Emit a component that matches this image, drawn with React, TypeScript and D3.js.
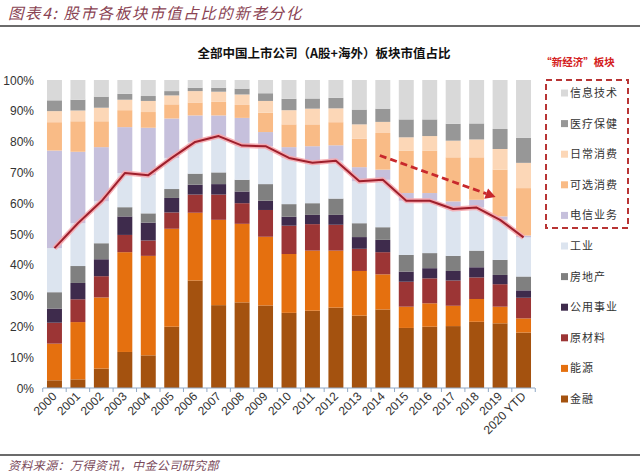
import React from "react";
import * as d3 from "d3";

const categories = ["2000","2001","2002","2003","2004","2005","2006","2007","2008","2009","2010","2011","2012","2013","2014","2015","2016","2017","2018","2019","2020 YTD"];

// stacked from bottom to top
const finance = [2.5, 2.8, 6.3, 11.7, 10.6, 19.9, 34.9, 26.9, 27.8, 26.8, 24.4, 25.1, 26.1, 23.5, 25.5, 19.5, 19.9, 20.1, 21.5, 21.0, 18.0];
const energy = [11.9, 18.6, 23.1, 32.4, 32.3, 31.8, 22.0, 27.7, 25.5, 22.3, 19.1, 19.5, 18.5, 14.5, 11.4, 6.9, 7.6, 6.6, 7.4, 5.4, 4.6];
const materials = [6.8, 7.4, 6.9, 5.6, 5.0, 5.3, 5.9, 8.2, 6.7, 8.7, 9.2, 8.6, 8.4, 7.2, 7.2, 8.1, 8.1, 8.2, 7.0, 7.3, 6.7];
const utilities = [4.6, 5.3, 5.5, 6.0, 5.8, 4.7, 3.2, 3.4, 3.8, 3.0, 2.9, 3.0, 3.2, 3.8, 4.0, 3.3, 3.3, 3.1, 3.3, 3.0, 2.4];
const realEstate = [5.3, 5.5, 5.2, 3.0, 3.0, 2.9, 3.6, 3.8, 3.8, 5.4, 4.1, 3.8, 5.3, 4.5, 4.1, 5.4, 4.9, 4.9, 5.4, 4.9, 4.5];
const industrials = [14.3, 13.9, 13.6, 11.1, 12.4, 10.1, 10.3, 11.8, 11.1, 12.3, 15.0, 13.1, 12.3, 13.6, 15.4, 17.6, 17.0, 15.2, 14.0, 13.0, 12.7];
const telecom = [31.7, 23.2, 17.6, 14.9, 15.4, 12.8, 8.6, 6.7, 9.0, 4.6, 3.5, 5.4, 5.0, 4.6, 3.3, 2.5, 2.5, 2.5, 2.5, 1.1, 0.6];
const discretionary = [9.2, 9.9, 8.4, 5.5, 5.1, 4.6, 4.2, 4.4, 4.2, 6.3, 7.4, 7.1, 7.5, 9.2, 11.9, 13.8, 13.8, 14.3, 13.8, 15.2, 15.4];
const staples = [3.6, 3.5, 4.4, 3.4, 3.6, 2.9, 3.7, 3.3, 3.4, 3.8, 4.6, 5.1, 4.5, 4.7, 3.6, 4.3, 4.7, 5.4, 5.8, 6.7, 8.2];
const healthcare = [3.5, 3.5, 3.6, 1.9, 1.6, 1.4, 1.1, 1.3, 1.9, 2.5, 3.7, 3.3, 3.4, 4.8, 4.3, 5.8, 5.4, 5.5, 5.2, 6.5, 8.1];
const infoTech = [6.6, 6.4, 5.4, 4.5, 5.2, 3.6, 2.5, 2.5, 2.8, 4.3, 6.1, 6.0, 5.8, 9.6, 9.3, 12.8, 12.8, 14.2, 14.1, 15.9, 18.8];

// red line: old-economy share
const oldEconomyShare = [45.4, 53.5, 60.6, 69.8, 69.1, 74.7, 79.9, 81.8, 78.7, 78.5, 74.7, 73.1, 73.8, 67.1, 67.6, 60.8, 60.8, 58.1, 58.6, 54.6, 48.9];

const yTicks = [0, 10, 20, 30, 40, 50, 60, 70, 80, 90, 100];

const seriesNames = ["金融","能源","原材料","公用事业","房地产","工业","电信业务","可选消费","日常消费","医疗保健","信息技术"];
const seriesValues = [finance, energy, materials, utilities, realEstate, industrials, telecom, discretionary, staples, healthcare, infoTech];
const seriesColors = ["#A4520F","#E5700F","#9C3535","#3E2B4C","#808080","#DCE4EF","#C6C0DC","#F9BB86","#FCD7B7","#979797","#D9D9D9"];

export default function App() {
  const W = 640, H = 475;
  const x = d3.scaleBand<string>().domain(categories).range([43, 535]).paddingInner(0.362).paddingOuter(0.17);
  const y = d3.scaleLinear().domain([0, 100]).range([388, 80]);

  const rows = categories.map((c, i) => {
    const r: any = { cat: c };
    seriesNames.forEach((n, k) => (r[n] = seriesValues[k][i]));
    return r;
  });
  const stacked = d3.stack<any>().keys(seriesNames)(rows);

  const line = d3.line<number>()
    .x((_, i) => (x(categories[i]) as number) + x.bandwidth() / 2)
    .y((v) => y(v));
  const linePath = line(oldEconomyShare) || "";

  const step = x.step();
  const tickXs = categories.map((c) => (x(c) as number) - (step - x.bandwidth()) / 2);
  tickXs.push((x(categories[categories.length - 1]) as number) + x.bandwidth() + (step - x.bandwidth()) / 2);

  const cjk = "'Noto Sans CJK SC', sans-serif";
  const latin = "'Liberation Sans', Arial, sans-serif";

  // dashed arrow endpoints from categories
  const ax1 = (x("2014") as number) + x.bandwidth() * 0.3;
  const ay1 = y(75.5);
  const ax2 = (x("2019") as number) + x.bandwidth() * 0.2;
  const ay2 = y(62);
  const ang = Math.atan2(ay2 - ay1, ax2 - ax1);
  const ah = 10, aw = 5.5;
  const tipX = ax2, tipY = ay2;
  const bx = tipX - ah * Math.cos(ang), by = tipY - ah * Math.sin(ang);
  const arrowHead = `M${tipX},${tipY} L${bx + aw * Math.sin(ang)},${by - aw * Math.cos(ang)} L${bx - aw * Math.sin(ang)},${by + aw * Math.cos(ang)} Z`;

  const legendOrder = [10, 9, 8, 7, 6, 5, 4, 3, 2, 1, 0];

  return (
    <svg width={W} height={H} style={{ position: "absolute", left: 0, top: 0, background: "#fff" }}>
      <rect x={0} y={0} width={W} height={H} fill="#fff" />
      <text x={8} y={19} fontFamily={cjk} fontSize={15.5} fontStyle="italic" letterSpacing={1.6} fill="#8A4353">图表4: 股市各板块市值占比的新老分化</text>
      <line x1={0} x2={W} y1={26} y2={26} stroke="#3a3a3a" strokeWidth={1.5} />

      <text x={324} y={58} textAnchor="middle" fontFamily={cjk} fontSize={12.5} fontWeight="bold" fill="#111">全部中国上市公司（A股+海外）板块市值占比</text>
      <text x={578} y={66} textAnchor="middle" fontFamily={cjk} fontSize={10.5} fontWeight="bold" fill="#D42020">“新经济”板块</text>

      {stacked.map((s, k) => (
        <g key={seriesNames[k]} fill={seriesColors[k]}>
          {s.map((d, i) => (
            <rect key={i} x={x(categories[i]) as number} y={y(d[1])} width={x.bandwidth()} height={Math.max(0, y(d[0]) - y(d[1]))} />
          ))}
        </g>
      ))}

      <path d={linePath} fill="none" stroke="#F6A9AF" strokeWidth={5} strokeLinejoin="round" opacity={0.9} />
      <path d={linePath} fill="none" stroke="#9E1F2C" strokeWidth={2} strokeLinejoin="round" />

      <line x1={ax1} y1={ay1} x2={bx} y2={by} stroke="#C8282C" strokeWidth={2.8} strokeDasharray="7,4" />
      <path d={arrowHead} fill="#C8282C" />

      {yTicks.map((t) => (
        <text key={t} x={34} y={y(t) + 4.5} textAnchor="end" fontFamily={latin} fontSize={12} fill="#333">{t}%</text>
      ))}

      <line x1={43} x2={535} y1={388} y2={388} stroke="#8FA8C6" strokeWidth={1} />
      {tickXs.map((tx, i) => (
        <line key={i} x1={tx} x2={tx} y1={388} y2={392} stroke="#8FA8C6" strokeWidth={1} />
      ))}
      {categories.map((c) => {
        const cx = (x(c) as number) + x.bandwidth() / 2 + 3;
        const cy = 397;
        return (
          <text key={c} x={cx} y={cy} textAnchor="end" fontFamily={latin} fontSize={12} fill="#333" transform={`rotate(-45 ${cx} ${cy})`}>{c}</text>
        );
      })}

      <rect x={546} y={80} width={82} height={148} fill="none" stroke="#B83434" strokeWidth={2} strokeDasharray="6,4" />
      {legendOrder.map((k, j) => {
        const ly = 93 + j * 30.6;
        return (
          <g key={k}>
            <rect x={561} y={ly - 3.5} width={7} height={7} fill={seriesColors[k]} />
            <text x={570} y={ly + 4} fontFamily={cjk} fontSize={11} letterSpacing={1} fill="#333">{seriesNames[k]}</text>
          </g>
        );
      })}

      <line x1={0} x2={W} y1={455} y2={455} stroke="#3a3a3a" strokeWidth={1.5} />
      <text x={8} y={470} fontFamily={cjk} fontSize={12} fontStyle="italic" letterSpacing={0.4} fill="#7A4A5A">资料来源：万得资讯，中金公司研究部</text>
    </svg>
  );
}
